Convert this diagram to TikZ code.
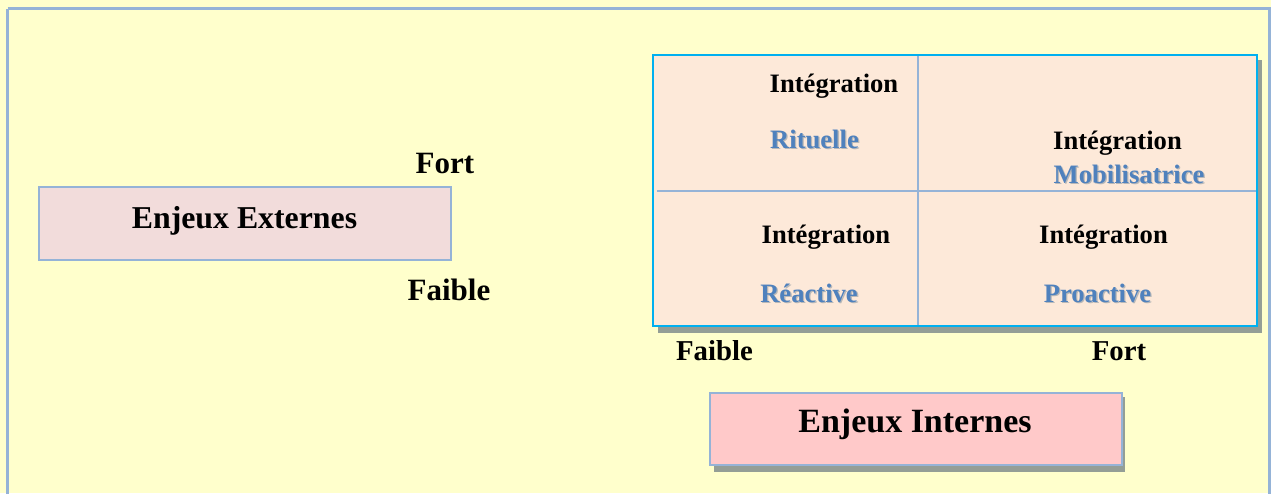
\documentclass[tikz,border=0pt]{standalone}
\usepackage{fontspec}
\setmainfont{Liberation Serif}
\definecolor{pagebg}{HTML}{FFFFCC}
\definecolor{frameblue}{HTML}{95B3D7}
\definecolor{gridcyan}{HTML}{00B0F0}
\definecolor{gridfill}{HTML}{FDE9D9}
\definecolor{extfill}{HTML}{F2DCDB}
\definecolor{intfill}{HTML}{FFC9C9}
\definecolor{shadowgrey}{HTML}{949E96}
\definecolor{labelblue}{HTML}{4F81BD}
\newcommand\shadowed[1]{\rlap{\color{black!28}\hspace{1.3pt}\raisebox{-1.3pt}{#1}}#1}
\tikzset{
  lbl/.style={inner sep=0pt, anchor=base, font=\bfseries\fontsize{26.6}{30}\selectfont},
  axis/.style={inner sep=0pt, anchor=base, font=\bfseries\fontsize{31}{34}\selectfont},
  axisb/.style={inner sep=0pt, anchor=base, font=\bfseries\fontsize{28.8}{32}\selectfont},
  kind/.style={lbl, text=labelblue},
  title/.style={inner sep=0pt, anchor=base, font=\bfseries},
}
\begin{document}
\begin{tikzpicture}[x=1pt,y=-1pt]
\useasboundingbox (0,0) rectangle (1271,493);
\begin{scope}
\clip (0,0) rectangle (1271,493);
% page frame
\fill[pagebg] (0,0) rectangle (1271,493);
\draw[frameblue, line width=2.5pt] (7.5,8.5) -- (1269.5,8.5) -- (1269.5,520) (7.5,8.5) -- (7.5,520);
\draw[frameblue, line width=1pt] (1270.5,8.5) -- (1270.5,520);
\end{scope}

% external stakes box
\node[draw=frameblue, line width=1.6pt, fill=extfill, minimum width=412pt, minimum height=73pt, inner sep=0pt]
  (ext) at (245,223.5) {};
\node[title, font=\bfseries\fontsize{31.8}{34}\selectfont] (extlbl) at (244.5,228) {Enjeux Externes};
\node[axis] (extfort) at (445,173) {Fort};
\node[axis] (extfaible) at (449,300) {Faible};

% matrix: shadow, cells, dividers, frame
\fill[shadowgrey] (658,60) rectangle (1262,333);
\fill[gridfill] (653,55) rectangle (1257,326);
\coordinate (vt) at (918,56);
\coordinate (vb) at (918,325);
\coordinate (hl) at (657,191);
\coordinate (hr) at (1256,191);
\draw[frameblue, line width=1.6pt] (vt) -- (vb) (hl) -- (hr);
\draw[gridcyan, line width=2.8pt] (653,55) rectangle (1257,326);

\node[lbl] (tlint) at (834,92) {Intégration};
\node[kind] (tlkind) at (814.5,148) {\shadowed{Rituelle}};
\node[lbl] (trint) at (1117.5,149) {Intégration};
\node[kind] (trkind) at (1129,183) {\shadowed{Mobilisatrice}};
\node[lbl] (blint) at (826,243) {Intégration};
\node[kind] (blkind) at (809,302) {\shadowed{Réactive}};
\node[lbl] (brint) at (1103.5,243) {Intégration};
\node[kind] (brkind) at (1097.5,302) {\shadowed{Proactive}};

\node[axisb] (intfaible) at (714.5,360) {Faible};
\node[axisb] (intfort) at (1119,360) {Fort};

% internal stakes box
\fill[shadowgrey] (714,397) rectangle (1125,472);
\node[draw=frameblue, line width=1.6pt, fill=intfill, minimum width=412pt, minimum height=72pt, inner sep=0pt, anchor=north west]
  (int) at (709,392) {};
\node[title, font=\bfseries\fontsize{34}{36}\selectfont] (intlbl) at (915,432) {Enjeux Internes};
\end{tikzpicture}
\end{document}
